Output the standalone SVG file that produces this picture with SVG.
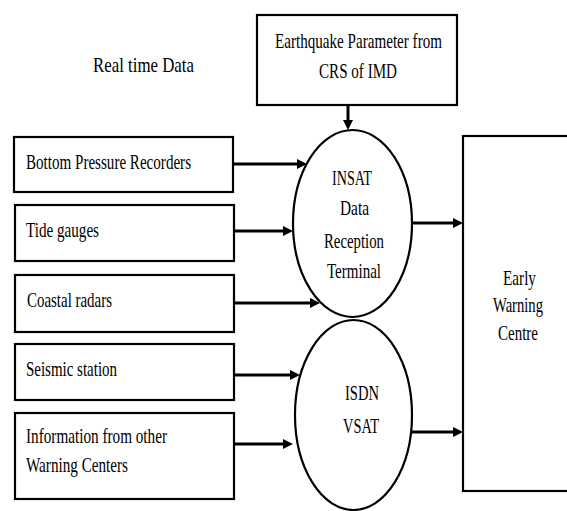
<svg xmlns="http://www.w3.org/2000/svg" width="567" height="511" viewBox="0 0 567 511">
<style>
.box{fill:#fff;stroke:#000;stroke-width:2.2}
.ell{fill:#fff;stroke:#000;stroke-width:2.2}
.t{font-family:"Liberation Serif","Times New Roman",serif;font-size:22px;fill:#000}
.c{stroke:#000;stroke-width:3;fill:none;marker-end:url(#ah)}
</style>
<defs>
<marker id="ah" markerUnits="userSpaceOnUse" markerWidth="12" markerHeight="12" refX="1" refY="5" orient="auto">
<path d="M0,0 L10,5 L0,10 z" fill="#000"/>
</marker>
</defs>
<rect width="567" height="511" fill="#fff"/>
<text class="t" x="93" y="72" textLength="101" lengthAdjust="spacingAndGlyphs">Real time Data</text>
<g id="eq">
<rect class="box" x="257" y="15" width="200" height="90"/>
<text class="t" x="275" y="48" textLength="167" lengthAdjust="spacingAndGlyphs">Earthquake Parameter from</text>
<text class="t" x="319" y="78" textLength="78" lengthAdjust="spacingAndGlyphs">CRS of IMD</text>
</g>
<g id="bpr">
<rect class="box" x="14" y="137" width="219" height="55"/>
<text class="t" x="26" y="169" textLength="165" lengthAdjust="spacingAndGlyphs">Bottom Pressure Recorders</text>
</g>
<g id="tide">
<rect class="box" x="15" y="205" width="219" height="56"/>
<text class="t" x="26" y="237" textLength="73" lengthAdjust="spacingAndGlyphs">Tide gauges</text>
</g>
<g id="coastal">
<rect class="box" x="15" y="275" width="219" height="57"/>
<text class="t" x="27" y="307" textLength="85" lengthAdjust="spacingAndGlyphs">Coastal radars</text>
</g>
<g id="seismic">
<rect class="box" x="15" y="344" width="219" height="56"/>
<text class="t" x="26" y="376" textLength="91" lengthAdjust="spacingAndGlyphs">Seismic station</text>
</g>
<g id="info">
<rect class="box" x="15" y="413" width="219" height="86"/>
<text class="t" x="26" y="443" textLength="141" lengthAdjust="spacingAndGlyphs">Information from other</text>
<text class="t" x="26" y="472" textLength="102" lengthAdjust="spacingAndGlyphs">Warning Centers</text>
</g>
<g id="insat">
<ellipse class="ell" cx="352.5" cy="223.5" rx="59.5" ry="93.5"/>
<text class="t" x="332" y="185" textLength="40" lengthAdjust="spacingAndGlyphs">INSAT</text>
<text class="t" x="340" y="215" textLength="29" lengthAdjust="spacingAndGlyphs">Data</text>
<text class="t" x="324" y="248" textLength="60" lengthAdjust="spacingAndGlyphs">Reception</text>
<text class="t" x="327" y="278" textLength="54" lengthAdjust="spacingAndGlyphs">Terminal</text>
</g>
<g id="isdn">
<ellipse class="ell" cx="353.5" cy="415" rx="58.5" ry="95"/>
<text class="t" x="345" y="400" textLength="34" lengthAdjust="spacingAndGlyphs">ISDN</text>
<text class="t" x="343" y="433" textLength="36" lengthAdjust="spacingAndGlyphs">VSAT</text>
</g>
<g id="ewc">
<rect class="box" x="463" y="136" width="110" height="355"/>
<text class="t" x="503" y="285" textLength="33" lengthAdjust="spacingAndGlyphs">Early</text>
<text class="t" x="493" y="312" textLength="50" lengthAdjust="spacingAndGlyphs">Warning</text>
<text class="t" x="498" y="340" textLength="40" lengthAdjust="spacingAndGlyphs">Centre</text>
</g>
<g id="connectors">
<line class="c" x1="348" y1="105" x2="348" y2="121"/>
<line class="c" x1="233" y1="164" x2="298" y2="164"/>
<line class="c" x1="234" y1="231" x2="284" y2="231"/>
<line class="c" x1="234" y1="303" x2="311" y2="303"/>
<line class="c" x1="234" y1="375" x2="291" y2="375"/>
<line class="c" x1="234" y1="444" x2="284" y2="444"/>
<line class="c" x1="412" y1="223" x2="454" y2="223"/>
<line class="c" x1="412" y1="432" x2="454" y2="432"/>
</g>
</svg>
